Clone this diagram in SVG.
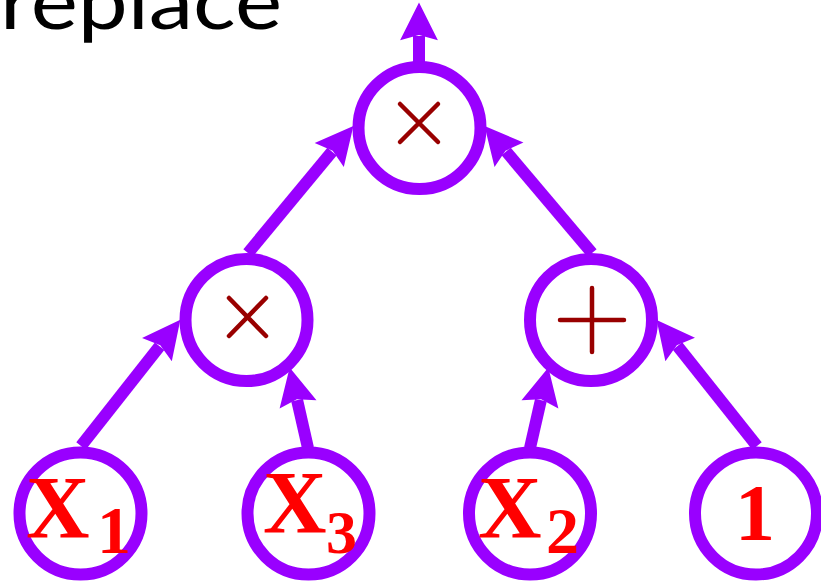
<svg xmlns="http://www.w3.org/2000/svg" width="821" height="581" viewBox="0 0 821 581">
<style>
.node circle{fill:#fff;stroke:#9900ff;stroke-width:12}
.op{stroke:#990000;stroke-width:4.5;stroke-linecap:round;fill:none}
.conn line{stroke:#9900ff;stroke-width:12}
.lbl{font-family:"Liberation Serif","Times New Roman",serif;font-weight:bold;fill:#ff0000}
.title{font-family:"Lato","Open Sans","Liberation Sans",sans-serif;font-weight:400;fill:#000}
</style>
<defs>
<marker id="ah" markerUnits="userSpaceOnUse" markerWidth="40" markerHeight="40" viewBox="-5 -18 37 36" refX="0" refY="0" orient="auto">
<path d="M-4,-17.5 L31,0 L-4,17.5 L1,0 Z" fill="#9900ff"/>
</marker>
</defs>
<text class="title" x="0" y="29" font-size="78" textLength="282" lengthAdjust="spacingAndGlyphs">replace</text>
<g class="conn">
<line x1="419" y1="62" x2="419" y2="36" marker-end="url(#ah)"/>
<line x1="248" y1="253" x2="332" y2="151.7" marker-end="url(#ah)"/>
<line x1="592" y1="253" x2="506.2" y2="151.5" marker-end="url(#ah)"/>
<line x1="81" y1="446" x2="159.6" y2="346.2" marker-end="url(#ah)"/>
<line x1="308" y1="448" x2="297.1" y2="400.2" marker-end="url(#ah)"/>
<line x1="530" y1="448" x2="540.9" y2="400.2" marker-end="url(#ah)"/>
<line x1="757" y1="446" x2="677.5" y2="346.1" marker-end="url(#ah)"/>
</g>
<g id="n-top" class="node">
<circle cx="419.5" cy="128" r="61"/>
<path class="op" d="M400,104 L438,142 M438,104 L400,142"/>
</g>
<g id="n-mul" class="node">
<circle cx="246.5" cy="320" r="61"/>
<path class="op" d="M229,298 L266,336 M266,298 L229,336"/>
</g>
<g id="n-plus" class="node">
<circle cx="591" cy="320" r="61"/>
<path class="op" d="M560,320 L624,320 M592,288 L592,352"/>
</g>
<g id="n-x1" class="node">
<circle cx="80.5" cy="513.5" r="61"/>
<text class="lbl" x="26" y="537" font-size="88">X</text>
<text class="lbl" x="97" y="553" font-size="68">1</text>
</g>
<g id="n-x3" class="node">
<circle cx="308.5" cy="513.5" r="61"/>
<text class="lbl" x="263" y="532" font-size="88">X</text>
<text class="lbl" x="326" y="553" font-size="62">3</text>
</g>
<g id="n-x2" class="node">
<circle cx="530" cy="513.5" r="61"/>
<text class="lbl" x="478" y="537" font-size="88">X</text>
<text class="lbl" x="546" y="553" font-size="66">2</text>
</g>
<g id="n-one" class="node">
<circle cx="756" cy="513.5" r="61"/>
<text class="lbl" x="735" y="540" font-size="80">1</text>
</g>
</svg>
